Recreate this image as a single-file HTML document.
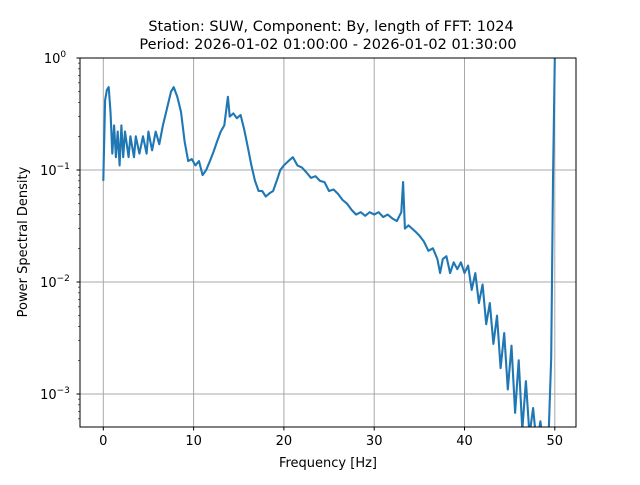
<!DOCTYPE html>
<html><head><meta charset="utf-8"><style>body{margin:0;background:#fff}svg{font-family:"DejaVu Sans","Liberation Sans",sans-serif}</style></head>
<body>
<svg id="c" width="640" height="480" xmlns="http://www.w3.org/2000/svg">
<rect width="640" height="480" fill="#fff"/>
<text x="331" y="31" font-size="14.5" text-anchor="middle">Station: SUW, Component: By, length of FFT: 1024</text>
<text x="328" y="49" font-size="14.5" text-anchor="middle">Period: 2026-01-02 01:00:00 - 2026-01-02 01:30:00</text>
<text x="328" y="467" font-size="13" text-anchor="middle">Frequency [Hz]</text>
<text transform="translate(27,242) rotate(-90)" font-size="13" text-anchor="middle">Power Spectral Density</text>
<defs><clipPath id="clip"><rect x="80" y="58" width="496" height="369"/></clipPath></defs>
<g id="grid"></g>
<g id="ticks"></g>
<path id="line" clip-path="url(#clip)" fill="none" stroke="#1f77b4" stroke-width="2.1" stroke-linejoin="round"/>
<rect x="80" y="58" width="496" height="369" fill="none" stroke="#000" stroke-width="1"/>
</svg>
<script>
const freqs=[0,0.2,0.4,0.6,0.8,1.0,1.2,1.4,1.6,1.8,2.0,2.2,2.4,2.8,3.0,3.4,3.6,4.0,4.4,4.8,5.0,5.4,5.8,6.2,6.6,7.0,7.5,7.8,8.2,8.6,9.0,9.4,9.8,10.2,10.6,11.0,11.4,11.8,12.2,12.6,13.0,13.4,13.8,14.0,14.4,14.8,15.2,15.6,16.0,16.4,16.8,17.2,17.6,18.0,18.4,18.8,19.2,19.6,20.0,20.5,21.0,21.5,22.0,22.5,23.0,23.5,24.0,24.5,25.0,25.5,26.0,26.5,27.0,27.5,28.0,28.5,29.0,29.5,30.0,30.5,31.0,31.5,32.0,32.5,33.0,33.2,33.4,33.8,34.2,34.6,35.0,35.5,36.0,36.5,37.0,37.3,37.6,38.0,38.4,38.8,39.2,39.6,40.0,40.4,40.8,41.2,41.6,42.0,42.4,42.8,43.2,43.6,44.0,44.4,44.8,45.2,45.6,46.0,46.4,46.8,47.2,47.6,48.0,48.4,48.8,49.2,49.6,49.8,50.0,50.1];
const psd=[0.08,0.42,0.52,0.55,0.33,0.14,0.25,0.13,0.22,0.11,0.25,0.13,0.22,0.13,0.2,0.13,0.2,0.14,0.2,0.14,0.22,0.15,0.22,0.17,0.25,0.34,0.5,0.55,0.45,0.33,0.18,0.12,0.125,0.11,0.12,0.09,0.10,0.12,0.145,0.18,0.22,0.25,0.45,0.30,0.32,0.29,0.31,0.23,0.16,0.11,0.08,0.065,0.065,0.058,0.062,0.065,0.08,0.1,0.11,0.12,0.13,0.11,0.105,0.095,0.085,0.088,0.08,0.078,0.065,0.067,0.061,0.054,0.05,0.044,0.04,0.042,0.039,0.042,0.04,0.042,0.038,0.04,0.037,0.035,0.042,0.078,0.03,0.032,0.03,0.028,0.026,0.023,0.019,0.02,0.016,0.012,0.016,0.017,0.012,0.015,0.013,0.015,0.012,0.014,0.0085,0.012,0.0065,0.0095,0.0042,0.0065,0.0028,0.005,0.0017,0.0035,0.0011,0.0027,0.00068,0.002,0.00048,0.0013,0.00043,0.00075,0.00035,0.00057,0.00031,0.00023,0.0021,0.08,1.0,1.4];
const xTicks=[0,10,20,30,40,50];
const yTicks=[-3,-2,-1,0];
const xs=f=>103.3+f*9.03;
const ys=v=>58+(-Math.log10(v))*112;
const ns='http://www.w3.org/2000/svg';
const g=document.getElementById('grid'),t=document.getElementById('ticks');
function mk(p,tag,a){const e=document.createElementNS(ns,tag);for(const k in a)e.setAttribute(k,a[k]);p.appendChild(e);return e;}
xTicks.forEach(v=>{const x=xs(v);
 const l=mk(g,'line',{x1:x,x2:x,y1:58,y2:427,stroke:'#a8a8a8','stroke-width':1});
 
 
 mk(t,'line',{x1:x,x2:x,y1:427,y2:430.5,stroke:'#000'});
 const tx=mk(t,'text',{x:x,y:445,'font-size':'13','text-anchor':'middle'});tx.textContent=v;
 
 
});
yTicks.forEach(p=>{const y=ys(Math.pow(10,p));
 const l=mk(g,'line',{x1:80,x2:576,y1:y,y2:y,stroke:'#a8a8a8','stroke-width':1});
 
 
 mk(t,'line',{x1:76.5,x2:80,y1:y,y2:y,stroke:'#000'});
 const tx=mk(t,'text',{x:55,y:y+5,'font-size':'13','text-anchor':'middle'});
 tx.innerHTML='10<tspan dy="-6" font-size="9">−'+(-p)+'</tspan>';
 if(p===0)tx.innerHTML='10<tspan dy="-6" font-size="9">0</tspan>';
 
 
 for(let m=2;m<10;m++){const yy=ys(m*Math.pow(10,p-1));if(yy>58&&yy<=427)mk(t,'line',{x1:78,x2:80,y1:yy,y2:yy,stroke:'#000','stroke-width':0.6});}
});
document.getElementById('line').setAttribute('d',freqs.map((f,i)=>(i?'L':'M')+xs(f).toFixed(1)+','+ys(psd[i]).toFixed(1)).join(''));
</script>
</body></html>
